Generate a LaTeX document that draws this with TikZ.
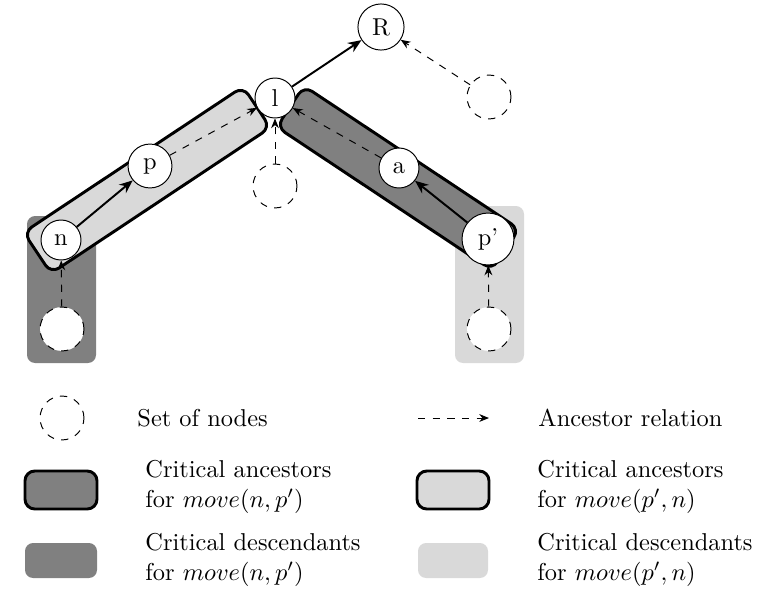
\documentclass[tikz,border=0pt]{standalone}
\usetikzlibrary{arrows.meta}
\definecolor{darkg}{gray}{0.5}
\definecolor{lightg}{gray}{0.85}
\begin{document}
\begin{tikzpicture}[x=0.41pt,y=-0.41pt,
  nd/.style={circle, draw, fill=white, thin, inner sep=0pt, minimum size=#1},
  setnd/.style={circle, draw, dashed, thin, inner sep=0pt, minimum size=18pt},
  ancband/.style={draw, line width=1.2pt, rounded corners=4pt, inner sep=0pt},
  descbox/.style={rounded corners=3.3pt},
  solidarr/.style={-{Stealth[length=5.5pt,width=4.5pt]}, line width=0.8pt},
  dasharr/.style={-{Stealth[length=4pt,width=3.2pt]}, dashed, thin},
  lbl/.style={anchor=west, align=left, inner sep=0pt}]
\useasboundingbox (0,0) rectangle (761,591);
% critical descendants boxes
\fill[darkg, descbox] (27,216) rectangle (96,363);
\fill[lightg, descbox] (455,206) rectangle (524,363);
% critical ancestor bands
\node[ancband, fill=lightg, minimum width=108pt, minimum height=20.2pt, rotate=33.6] (bandL) at (147,180) {};
\node[ancband, fill=darkg, minimum width=106pt, minimum height=20.2pt, rotate=-33.6] (bandR) at (398,178) {};
% nodes
\node[nd=18.9pt] (R) at (381,27) {R};
\node[nd=16.4pt] (l) at (275,98) {l};
\node[nd=18pt] (p) at (150,166) {p};
\node[nd=16.4pt] (n) at (61,240) {n};
\node[nd=16.4pt] (a) at (399,168) {a};
\node[nd=21.3pt] (pp) at (488,239) {p’};
\node[setnd] (s1) at (489,97) {};
\node[setnd] (s2) at (275,186) {};
\node[setnd, fill=white] (s3) at (62,329) {};
\node[setnd, fill=white] (s4) at (489,329) {};
% edges
\draw[solidarr] (n) -- (p);
\draw[dasharr] (p) -- (l);
\draw[solidarr] (l) -- (R);
\draw[dasharr] (s1) -- (R);
\draw[dasharr] (s2) -- (l);
\draw[dasharr] (a) -- (l);
\draw[solidarr] (pp) -- (a);
\draw[dasharr] (s3) -- (n);
\draw[dasharr] (s4) -- (pp);
% legend
\node[setnd] (ls) at (62,418) {};
\node[lbl] (lt1) at (137,418) {Set of nodes};
\coordinate (la1) at (418,418);
\coordinate (la2) at (489,418);
\draw[dasharr] (la1) -- (la2);
\node[lbl] (lt2) at (538,418) {Ancestor relation};
\draw[ancband, fill=darkg] (25,471) rectangle (97,509);
\node[lbl] (lt3) at (145,487) {Critical ancestors\\for $move(n,p')$};
\draw[ancband, fill=lightg] (417,471) rectangle (489,509);
\node[lbl] (lt4) at (537,487) {Critical ancestors\\for $move(p',n)$};
\fill[darkg, descbox] (25,543) rectangle (97,578);
\node[lbl] (lt5) at (145,560) {Critical descendants\\for $move(n,p')$};
\fill[lightg, descbox] (418,543) rectangle (488,578);
\node[lbl] (lt6) at (537,560) {Critical descendants\\for $move(p',n)$};
\end{tikzpicture}
\end{document}
